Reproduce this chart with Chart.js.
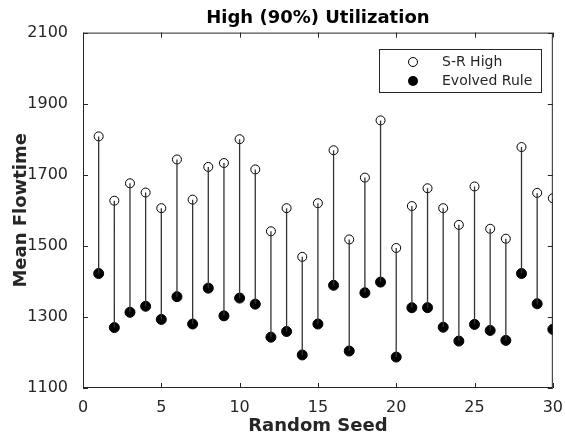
<!DOCTYPE html>
<html>
<head>
<meta charset="utf-8">
<script src="https://cdn.jsdelivr.net/npm/chart.js@4/dist/chart.umd.min.js"></script>
<style>
  html, body { margin: 0; padding: 0; background: #fff; }
  #wrap { width: 565px; height: 437px; }
</style>
</head>
<body>
<div id="wrap"><canvas id="chart"></canvas></div>
<script>
var seeds = [1, 2, 3, 4, 5, 6, 7, 8, 9, 10, 11, 12, 13, 14, 15, 16, 17, 18, 19, 20, 21, 22, 23, 24, 25, 26, 27, 28, 29, 30];
var srHigh = [1808, 1627, 1676, 1650, 1606, 1743, 1630, 1722, 1733, 1800, 1715, 1541, 1606, 1469, 1620,
  1769, 1518, 1692, 1853, 1494, 1612, 1662, 1606, 1559, 1667, 1548, 1520, 1778, 1649, 1634];
var evolved = [1422, 1270, 1313, 1330, 1293, 1357, 1280, 1381, 1303, 1353, 1336, 1243, 1259, 1193, 1280,
  1389, 1204, 1368, 1398, 1187, 1326, 1326, 1271, 1232, 1279, 1262, 1234, 1422, 1337, 1265];
var yTicks = [1100, 1300, 1500, 1700, 1900, 2100];
var xTicks = [0, 5, 10, 15, 20, 25, 30];

var textColor = '#262626';
var font = 'DejaVu Sans';

// stems: pairs of points separated by a gap
var stems = [];
seeds.forEach(function (s, i) {
  stems.push({ x: s, y: srHigh[i] });
  stems.push({ x: s, y: evolved[i] });
  stems.push({ x: s, y: null });
});

// box, inward ticks and legend, MATLAB style
var boxPlugin = {
  id: 'box',
  afterDatasetsDraw: function (chart) {
    var ctx = chart.ctx, a = chart.chartArea;
    var xs = chart.scales.x, ys = chart.scales.y;
    var tl = 5;
    ctx.save();
    ctx.strokeStyle = textColor;
    ctx.lineWidth = 1;
    ctx.strokeRect(a.left + 0.5, a.top + 0.5, a.right - a.left - 1, a.bottom - a.top - 1);
    ctx.beginPath();
    xTicks.forEach(function (v) {
      var px = Math.round(xs.getPixelForValue(v)) + 0.5;
      ctx.moveTo(px, a.bottom); ctx.lineTo(px, a.bottom - tl);
      ctx.moveTo(px, a.top); ctx.lineTo(px, a.top + tl);
    });
    yTicks.forEach(function (v) {
      var py = Math.round(ys.getPixelForValue(v)) + 0.5;
      ctx.moveTo(a.left, py); ctx.lineTo(a.left + tl, py);
      ctx.moveTo(a.right, py); ctx.lineTo(a.right - tl, py);
    });
    ctx.stroke();

    // legend
    var lx = 379, ly = 49, lw = 162, lh = 43;
    ctx.fillStyle = '#fff';
    ctx.fillRect(lx, ly, lw, lh);
    ctx.strokeStyle = '#262626';
    ctx.strokeRect(lx + 0.5, ly + 0.5, lw, lh);
    ctx.font = '14px ' + font;
    ctx.textBaseline = 'middle';
    ctx.fillStyle = '#000';
    ctx.beginPath();
    ctx.arc(413, 62, 4.5, 0, Math.PI * 2);
    ctx.strokeStyle = '#000';
    ctx.stroke();
    ctx.beginPath();
    ctx.arc(413, 81, 5, 0, Math.PI * 2);
    ctx.fill();
    ctx.fillStyle = textColor;
    ctx.fillText(chart.data.datasets[1].label, 442, 62);
    ctx.fillText(chart.data.datasets[2].label, 442, 81);
    ctx.restore();
  }
};

var config = {
  type: 'scatter',
  data: {
    datasets: [{
      label: 'stems',
      data: stems,
      showLine: true,
      spanGaps: false,
      borderColor: '#333',
      borderWidth: 1.3,
      pointRadius: 0
    }, {
      label: 'S-R High',
      data: seeds.map(function (s, i) { return { x: s, y: srHigh[i] }; }),
      pointRadius: 4.5,
      pointBackgroundColor: '#fff',
      pointBorderColor: '#000',
      pointBorderWidth: 1
    }, {
      label: 'Evolved Rule',
      data: seeds.map(function (s, i) { return { x: s, y: evolved[i] }; }),
      pointRadius: 5,
      pointBackgroundColor: '#000',
      pointBorderColor: '#000',
      pointBorderWidth: 1
    }]
  },
  options: {
    responsive: true,
    maintainAspectRatio: false,
    animation: false,
    layout: { padding: { left: 0, right: 8, top: 0, bottom: 0 } },
    plugins: {
      legend: { display: false },
      tooltip: { enabled: false },
      title: {
        display: true,
        fullSize: false,
        text: 'High (90%) Utilization',
        color: '#000',
        font: { family: font, size: 18, weight: 'bold' },
        padding: { top: 8, bottom: 3 }
      }
    },
    scales: {
      x: {
        type: 'linear',
        min: 0,
        max: 30,
        afterBuildTicks: function (s) { s.ticks = xTicks.map(function (v) { return { value: v }; }); },
        afterFit: function (s) { s.height = 49; },
        grid: { display: false },
        border: { display: false },
        ticks: { color: textColor, font: { family: font, size: 16 }, padding: 2, callback: function (v) { return String(v); } },
        title: {
          display: true,
          text: 'Random Seed',
          color: textColor,
          font: { family: font, size: 18, weight: 'bold' },
          padding: { top: 0, bottom: 0 }
        }
      },
      y: {
        type: 'linear',
        min: 1100,
        max: 2100,
        afterBuildTicks: function (s) { s.ticks = yTicks.map(function (v) { return { value: v }; }); },
        afterFit: function (s) { s.width = 83; },
        grid: { display: false },
        border: { display: false },
        ticks: { color: textColor, font: { family: font, size: 16 }, padding: 7, callback: function (v) { return String(v); } },
        title: {
          display: true,
          text: 'Mean Flowtime',
          color: textColor,
          font: { family: font, size: 18, weight: 'bold' },
          padding: { top: 11, bottom: 2 }
        }
      }
    }
  },
  plugins: [boxPlugin]
};

window.onload = function () {
  var ctx = document.getElementById('chart');
  window.myChart = new Chart(ctx, config);
};
</script>
</body>
</html>
